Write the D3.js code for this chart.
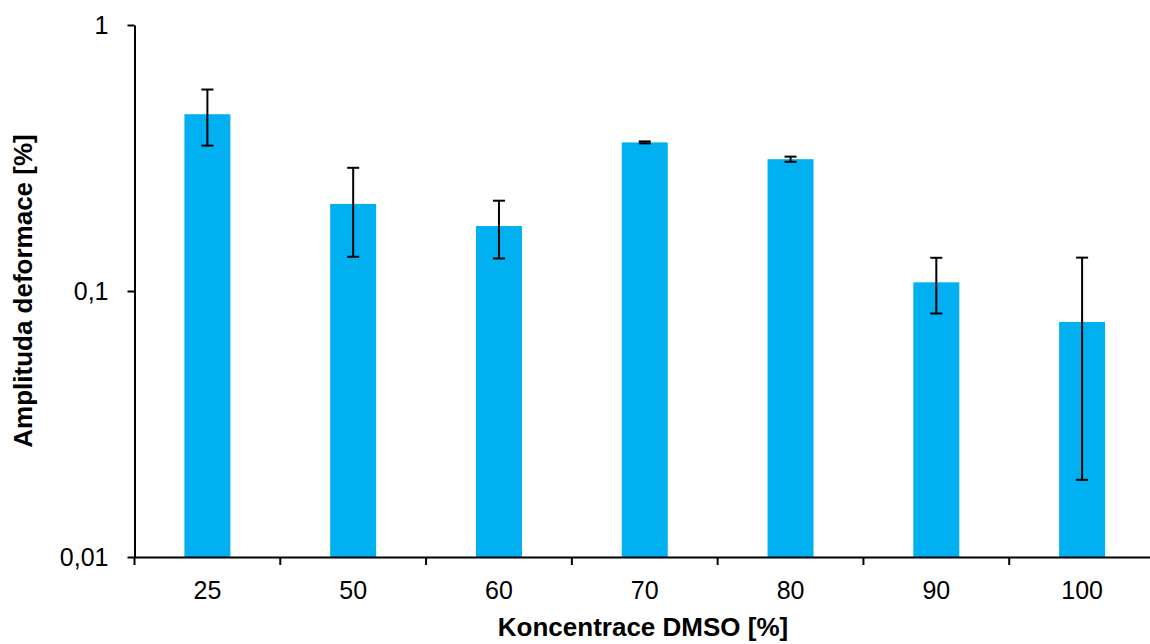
<!DOCTYPE html>
<html>
<head>
<meta charset="utf-8">
<script src="https://cdn.jsdelivr.net/npm/d3@7"></script>
<style>
  html, body { margin: 0; padding: 0; background: #fff; }
  svg { display: block; font-family: "Liberation Sans", Arial, sans-serif; }
</style>
</head>
<body>
<svg id="chart" width="1150" height="644"></svg>
<script>
const categories = ["25", "50", "60", "70", "80", "90", "100"];
const values = [0.462, 0.2125, 0.1755, 0.362, 0.313, 0.1078, 0.0765];
const errors = [0.11, 0.078, 0.043, 0.003, 0.007, 0.0255, 0.057];
const yTickValues = [0.01, 0.1, 1];
const yTickLabels = ["0,01", "0,1", "1"];
const xTitle = "Koncentrace DMSO [%]";
const yTitle = "Amplituda deformace [%]";

(function () {
const svg = d3.select("#chart");
const mLeft = 134.5, mRight = 1155, mTop = 25, mBottom = 557;

const x = d3.scaleBand().domain(categories).range([mLeft, mRight]).paddingInner(0).paddingOuter(0);
const y = d3.scaleLog().domain([0.01, 1]).range([mBottom, mTop]);
const barW = 46;
const color = "#00B0F0";

// bars
svg.append("g").selectAll("rect").data(categories).join("rect")
  .attr("x", d => x(d) + x.bandwidth() / 2 - barW / 2)
  .attr("y", (d, i) => y(values[i]))
  .attr("width", barW)
  .attr("height", (d, i) => y(0.01) - y(values[i]))
  .attr("fill", color);

// error bars
const eg = svg.append("g").attr("stroke", "#000").attr("stroke-width", 2);
categories.forEach((c, i) => {
  const cx = x(c) + x.bandwidth() / 2;
  const hi = y(values[i] + errors[i]);
  const lo = y(values[i] - errors[i]);
  eg.append("line").attr("x1", cx).attr("x2", cx).attr("y1", hi).attr("y2", lo);
  eg.append("line").attr("x1", cx - 6).attr("x2", cx + 6).attr("y1", hi).attr("y2", hi);
  eg.append("line").attr("x1", cx - 6).attr("x2", cx + 6).attr("y1", lo).attr("y2", lo);
});

// y axis
const yAxis = d3.axisLeft(y).tickValues(yTickValues)
  .tickFormat((d, i) => yTickLabels[i]).tickSize(7).tickSizeOuter(0).tickPadding(19);
const gy = svg.append("g").attr("transform", `translate(${mLeft},0)`).call(yAxis);
gy.select(".domain").attr("stroke", "#000").attr("stroke-width", 2);
gy.selectAll(".tick line").attr("stroke", "#000").attr("stroke-width", 2);
gy.selectAll(".tick text").attr("font-size", 25).attr("fill", "#000")
  .attr("font-family", "Liberation Sans, Arial, sans-serif");

// x axis
const xAxis = d3.axisBottom(x).tickSize(0).tickSizeOuter(0).tickPadding(24);
const gx = svg.append("g").attr("transform", `translate(0,${mBottom})`).call(xAxis);
gx.select(".domain").attr("stroke", "#000").attr("stroke-width", 2);
gx.selectAll(".tick text").attr("font-size", 25).attr("fill", "#000")
  .attr("font-family", "Liberation Sans, Arial, sans-serif");
// category boundary ticks
const bounds = categories.map(c => x(c)).concat([x(categories[categories.length - 1]) + x.bandwidth()]);
gx.append("g").selectAll("line").data(bounds).join("line")
  .attr("x1", d => d).attr("x2", d => d).attr("y1", 0).attr("y2", 8)
  .attr("stroke", "#000").attr("stroke-width", 2);

// titles
svg.append("text")
  .attr("x", 643).attr("y", 636)
  .attr("text-anchor", "middle").attr("font-size", 26).attr("font-weight", "bold")
  .text(xTitle);
svg.append("text")
  .attr("transform", `translate(32,${291}) rotate(-90)`)
  .attr("text-anchor", "middle").attr("font-size", 26).attr("font-weight", "bold")
  .text(yTitle);
})();
</script>
</body>
</html>
